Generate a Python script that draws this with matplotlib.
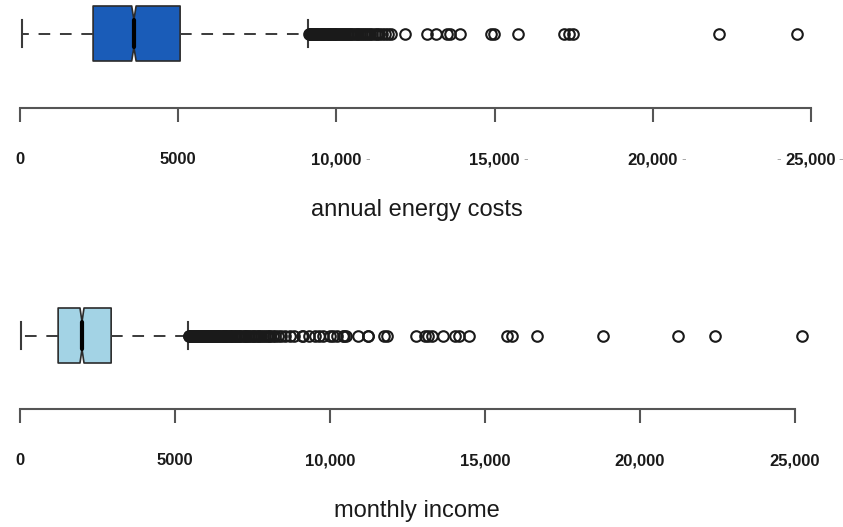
import matplotlib
matplotlib.use("Agg")
import matplotlib.pyplot as plt

# ---- data -----------------------------------------------------------------
tick_values = [0, 5000, 10000, 15000, 20000, 25000]
tick_labels = ["0", "5000", "10,000", "15,000", "20,000", "25,000"]

# annual energy costs: five-number summary, notch limits and outliers
energy_q1, energy_med, energy_q3 = 2310, 3600, 5060
energy_whislo, energy_whishi = 60, 9100
energy_cilo, energy_cihi = 3530, 3670
energy_outliers = [
    9130, 9170, 9200, 9230, 9260, 9300, 9330, 9360, 9400, 9430, 9470, 9500,
    9540, 9580, 9610, 9650, 9690, 9720, 9760, 9800, 9840, 9880, 9920, 9960,
    10000, 10050, 10090, 10140, 10180, 10230, 10280, 10330, 10370, 10420,
    10470, 10530, 10580, 10640, 10690, 10750, 10810, 10870, 10940, 11000,
    11070, 11140, 11210, 11280, 11360, 11450, 11530, 11620, 11730, 12170,
    12860, 13150, 13500, 13590, 13910, 14890, 14980, 15740, 17190, 17350,
    17480, 22090, 24560,
]

# monthly income: five-number summary, notch limits and outliers
income_q1, income_med, income_q3 = 1230, 2000, 2940
income_whislo, income_whishi = 20, 5420
income_cilo, income_cihi = 1935, 2065
income_outliers = [
    5440, 5460, 5480, 5500, 5520, 5540, 5560, 5580, 5600, 5620, 5640, 5660,
    5690, 5710, 5740, 5760, 5790, 5810, 5840, 5870, 5890, 5920, 5950, 5980,
    6010, 6040, 6070, 6100, 6130, 6160, 6190, 6220, 6260, 6290, 6320, 6360,
    6390, 6430, 6460, 6500, 6540, 6570, 6610, 6650, 6690, 6730, 6770, 6810,
    6850, 6890, 6940, 6980, 7020, 7070, 7110, 7160, 7210, 7250, 7300, 7350,
    7400, 7450, 7500, 7560, 7610, 7670, 7720, 7780, 7840, 7900, 7960, 8020,
    8080, 8150, 8220, 8320, 8420, 8550, 8710, 8840, 9100, 9130, 9320, 9520,
    9650, 9770, 10000, 10100, 10230, 10420, 10450, 10520, 10900, 11210,
    11230, 11730, 11840, 12760, 13050, 13160, 13290, 13630, 14030, 14150,
    14480, 15710, 15870, 16680, 18810, 21230, 22420, 25240,
]

# ---- figure ---------------------------------------------------------------
W, H = 843, 527
fig = plt.figure(figsize=(W / 100, H / 100), dpi=100)
fig.patch.set_facecolor("white")

tick_font = ["Liberation Sans Narrow", "Liberation Sans", "DejaVu Sans"]
title_font = ["Liberation Sans", "DejaVu Sans"]
axis_grey = "#555555"
PT = 0.72  # points per pixel at 100 dpi


def panel(top_px, bottom_px, x0_px, x25k_px, stats, face, title, dash_marks):
    ax = fig.add_axes([0, 1 - bottom_px / H, 1, (bottom_px - top_px) / H])
    unit = (x25k_px - x0_px) / 25000.0
    ax.set_xlim(-x0_px / unit, (W - x0_px) / unit)
    ax.set_ylim(0, 1)
    height = bottom_px - top_px
    box_h = 55.0 / height
    centre = (bottom_px - stats.pop("centre_px")) / height

    ax.bxp(
        [stats],
        positions=[centre],
        widths=[box_h],
        orientation="horizontal",
        shownotches=True,
        patch_artist=True,
        boxprops=dict(facecolor=face, edgecolor="#2b2b2b", linewidth=1.2,
                      joinstyle="round"),
        medianprops=dict(color="black", linewidth=3.0, solid_capstyle="round"),
        whiskerprops=dict(color="#3a3a3a", linewidth=1.4,
                          linestyle=(0, (6.0, 5.0))),
        capprops=dict(color="#3a3a3a", linewidth=1.5),
        flierprops=dict(marker="o", markersize=7.6, markerfacecolor="none",
                        markeredgecolor="#1a1a1a", markeredgewidth=1.5,
                        linestyle="none"),
    )

    for side in ("top", "left", "right"):
        ax.spines[side].set_visible(False)
    ax.spines["bottom"].set_bounds(0, 25000)
    ax.spines["bottom"].set_color(axis_grey)
    ax.spines["bottom"].set_linewidth(1.5)
    ax.set_yticks([])
    ax.set_xticks(tick_values, labels=tick_labels)
    ax.tick_params(axis="x", direction="out", length=10, width=1.5,
                   color=axis_grey, pad=22, labelsize=12,
                   labelcolor="#1a1a1a")
    for lab in ax.get_xticklabels():
        lab.set_fontfamily(tick_font)
        lab.set_fontweight("bold")

    ax.set_xlabel(title, fontsize=17, family=title_font, color="#1a1a1a",
                  labelpad=23)
    ax.xaxis.label.set_x(417 / W)

    # faint dashes that sit beside some of the tick labels
    for tick, off_px in dash_marks:
        ax.annotate("-", xy=(tick, 0), xycoords=("data", "axes fraction"),
                    xytext=(off_px * PT, -51 * PT),
                    textcoords="offset points", ha="center", va="center",
                    fontsize=10, color="#a8a8a8", family=title_font)
    return ax


energy_stats = dict(med=energy_med, q1=energy_q1, q3=energy_q3,
                    whislo=energy_whislo, whishi=energy_whishi,
                    cilo=energy_cilo, cihi=energy_cihi,
                    fliers=energy_outliers, centre_px=33.5)
income_stats = dict(med=income_med, q1=income_q1, q3=income_q3,
                    whislo=income_whislo, whishi=income_whishi,
                    cilo=income_cilo, cihi=income_cihi,
                    fliers=income_outliers, centre_px=335.5)

panel(0, 108, 20, 811, energy_stats, "#1a5cb8", "annual energy costs",
      [(10000, 31), (15000, 31), (20000, 31), (25000, -32), (25000, 30)])
panel(300, 409, 20, 795, income_stats, "#a3d3e5", "monthly income", [])

fig.savefig("out.png", dpi=100, facecolor="white")
